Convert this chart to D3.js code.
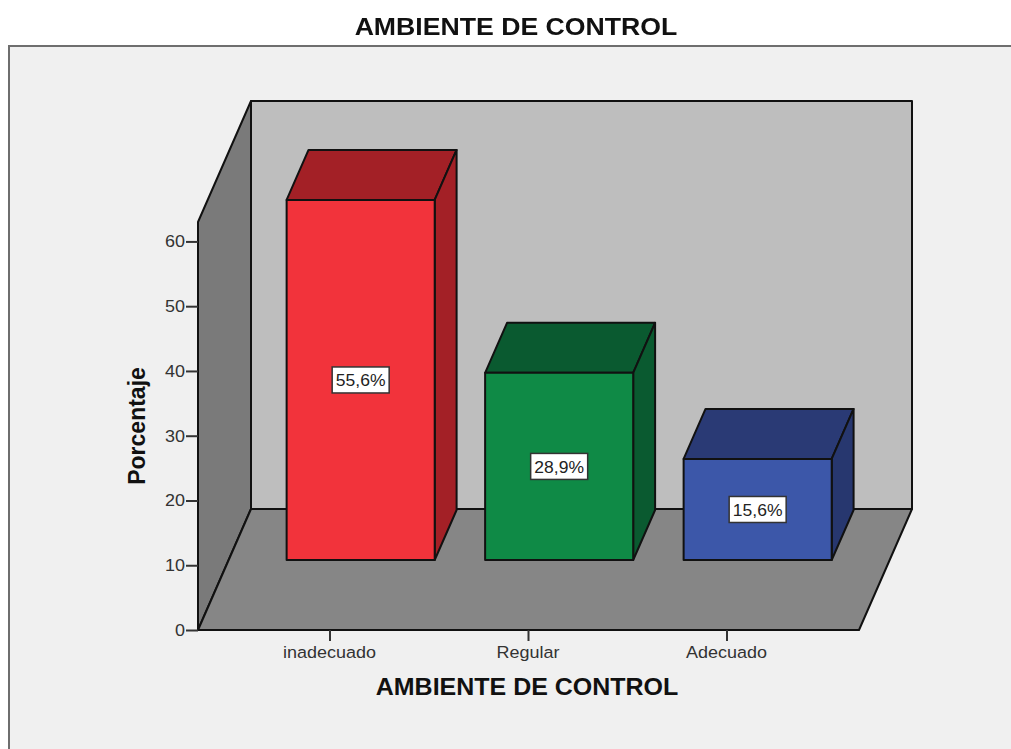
<!DOCTYPE html>
<html>
<head>
<meta charset="utf-8">
<script src="https://d3js.org/d3.v7.min.js"></script>
<style>
  html, body { margin: 0; padding: 0; background: #fff; overflow: hidden; }
  text { font-family: "Liberation Sans", sans-serif; }
  svg { filter: blur(0.4px); }
</style>
</head>
<body>
<div id="chart"></div>
<script>
const categories = ['inadecuado', 'Regular', 'Adecuado']
const percents = [55.6, 28.9, 15.6]
const labels = ['55,6%', '28,9%', '15,6%']
const frontColors = ['#f2333b', '#0f8a46', '#3c57a9']
const topColors = ['#a32026', '#0a5a30', '#2a3a75']
const sideColors = ['#a32026', '#0a5a30', '#27376f']
const yTicks = [0, 10, 20, 30, 40, 50, 60]

const width = 1011
const height = 749
const yMax = 63

const svg = d3.select('#chart').append('svg')
  .attr('width', width)
  .attr('height', height)
  .style('display', 'block')

const x = d3.scaleBand().domain(categories).range([198, 859]).paddingInner(0.254).paddingOuter(0.292)
const y = d3.scaleLinear().domain([0, yMax]).range([630, 222])

// oblique projection: depth 0 is the front of the floor, depth 1 the back wall
const depthX = 53
const depthY = 121
const pt = (px, value, depth) => [px + depth * depthX, y(value) - depth * depthY]
const poly = pts => d3.line()(pts) + 'Z'

svg.append('rect')
  .attr('x', 9).attr('y', 46)
  .attr('width', width + 10).attr('height', height)
  .attr('fill', '#f0f0f0')
  .attr('stroke', '#6e6e6e')
  .attr('stroke-width', 2)

const x0 = x.range()[0]
const x1 = x.range()[1]
const outline = g => g.attr('stroke', '#111').attr('stroke-width', 2).attr('stroke-linejoin', 'round')

const walls = svg.append('g').call(outline)
walls.append('path').attr('fill', '#bebebe')
  .attr('d', poly([pt(x0, 0, 1), pt(x0, yMax, 1), pt(x1, yMax, 1), pt(x1, 0, 1)]))
walls.append('path').attr('fill', '#7a7a7a')
  .attr('d', poly([pt(x0, 0, 0), pt(x0, yMax, 0), pt(x0, yMax, 1), pt(x0, 0, 1)]))
walls.append('path').attr('fill', '#868686')
  .attr('d', poly([pt(x0, 0, 0), pt(x0, 0, 1), pt(x1, 0, 1), pt(x1, 0, 0)]))

const barFront = 70 / depthY
const barBack = 120 / depthY

const bars = svg.append('g').call(outline)
  .selectAll('g')
  .data(categories)
  .join('g')

bars.append('path')
  .attr('fill', (d, i) => topColors[i])
  .attr('d', (d, i) => {
    const l = x(d), r = l + x.bandwidth()
    return poly([pt(l, percents[i], barFront), pt(l, percents[i], barBack), pt(r, percents[i], barBack), pt(r, percents[i], barFront)])
  })
bars.append('path')
  .attr('fill', (d, i) => sideColors[i])
  .attr('d', (d, i) => {
    const r = x(d) + x.bandwidth()
    return poly([pt(r, 0, barFront), pt(r, percents[i], barFront), pt(r, percents[i], barBack), pt(r, 0, barBack)])
  })
bars.append('path')
  .attr('fill', (d, i) => frontColors[i])
  .attr('d', (d, i) => {
    const l = x(d), r = l + x.bandwidth()
    return poly([pt(l, 0, barFront), pt(l, percents[i], barFront), pt(r, percents[i], barFront), pt(r, 0, barFront)])
  })

const boxes = svg.append('g')
  .selectAll('g')
  .data(categories)
  .join('g')
  .attr('transform', (d, i) => {
    const p = pt(x(d) + x.bandwidth() / 2, percents[i] / 2, barFront)
    return `translate(${p[0]},${p[1]})`
  })
boxes.append('rect')
  .attr('x', -28.5).attr('y', -13)
  .attr('width', 57).attr('height', 26)
  .attr('fill', '#fff')
  .attr('stroke', '#333')
  .attr('stroke-width', 1.5)
boxes.append('text')
  .attr('text-anchor', 'middle')
  .attr('dy', '0.36em')
  .attr('font-size', 17)
  .attr('transform', 'scale(1.03,1)')
  .attr('fill', '#222')
  .text((d, i) => labels[i])

const yAxis = svg.append('g')
  .attr('transform', `translate(${x0},0)`)
  .call(d3.axisLeft(y).tickValues(yTicks).tickSize(12).tickPadding(2))
const xAxis = svg.append('g')
  .attr('transform', `translate(0,${y(0)})`)
  .call(d3.axisBottom(x).tickSize(11).tickPadding(5))

for (const axis of [yAxis, xAxis]) {
  axis.select('.domain').remove()
  axis.selectAll('.tick line').attr('stroke', '#333').attr('stroke-width', 2)
  axis.selectAll('.tick text').attr('font-size', 16.5).attr('font-family', '"Liberation Sans", sans-serif').attr('fill', '#333')
}
// the original's hinted text runs wider than Liberation Sans at the same height
yAxis.selectAll('.tick text').attr('x', 0).attr('transform', 'translate(-13,0) scale(1.09,1)')
xAxis.selectAll('.tick text').attr('transform', 'translate(-0.5,0) scale(1.09,1)')

svg.append('text')
  .attr('transform', 'translate(516,35) scale(1.088,1)')
  .attr('text-anchor', 'middle')
  .attr('font-size', 24.5)
  .attr('font-weight', 'bold')
  .attr('fill', '#111')
  .text('AMBIENTE DE CONTROL')

svg.append('text')
  .attr('transform', 'translate(527,695) scale(1.063,1)')
  .attr('text-anchor', 'middle')
  .attr('font-size', 23.5)
  .attr('font-weight', 'bold')
  .attr('fill', '#111')
  .text('AMBIENTE DE CONTROL')

svg.append('text')
  .attr('transform', 'translate(145,426) rotate(-90)')
  .attr('text-anchor', 'middle')
  .attr('font-size', 23)
  .attr('font-weight', 'bold')
  .attr('fill', '#111')
  .text('Porcentaje')
</script>
</body>
</html>
